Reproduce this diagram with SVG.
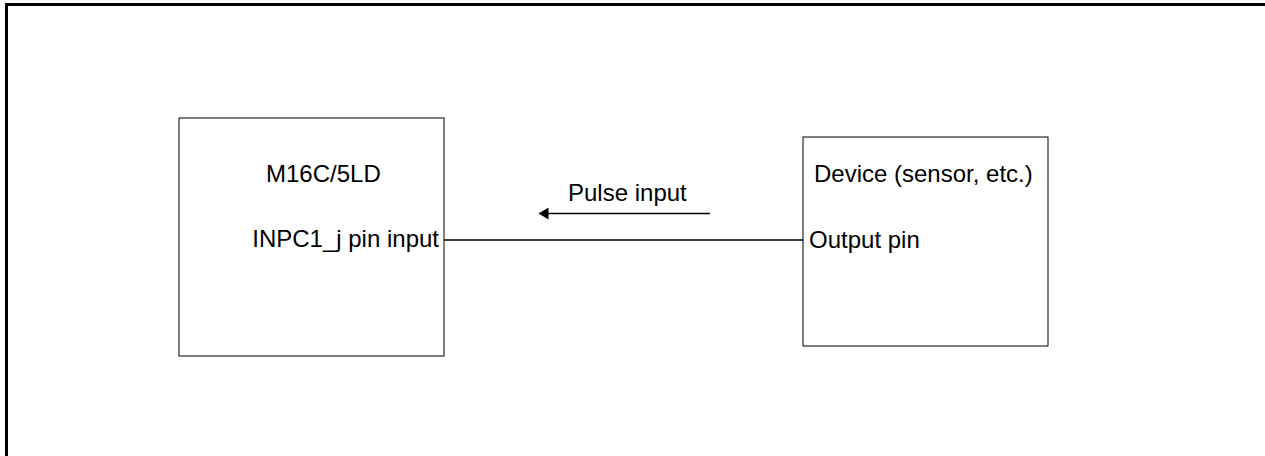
<svg xmlns="http://www.w3.org/2000/svg" width="1265" height="456" viewBox="0 0 1265 456">
<style>
text{font-family:"Liberation Sans",Arial,sans-serif;font-size:24px;fill:#000}
.box{fill:#fff;stroke:#000;stroke-width:1}
.wire{stroke:#000;stroke-width:1.3;fill:none}
</style>
<defs>
<marker id="ah" viewBox="0 0 10 12" refX="9.5" refY="6" markerWidth="10" markerHeight="12" markerUnits="userSpaceOnUse" orient="auto">
<path d="M0,0 L10,6 L0,12 Z" fill="#000"/>
</marker>
</defs>
<rect width="1265" height="456" fill="#fff"/>
<path d="M6.5,456 V4.5 H1265" fill="none" stroke="#000" stroke-width="3"/>
<g id="m16c">
<rect class="box" x="179" y="118" width="265" height="238"/>
<text x="266" y="182">M16C/5LD</text>
<text x="439" y="247" text-anchor="end">INPC1_j pin input</text>
</g>
<g id="device">
<rect class="box" x="803" y="137" width="245" height="209"/>
<text x="814" y="182">Device (sensor, etc.)</text>
<text x="809" y="248">Output pin</text>
</g>
<g id="connectors">
<line class="wire" x1="444" y1="240" x2="803" y2="240"/>
<line x1="710" y1="213.5" x2="539" y2="213.5" stroke="#000" stroke-width="1.5" marker-end="url(#ah)"/>
<text x="568" y="201">Pulse input</text>
</g>
</svg>
